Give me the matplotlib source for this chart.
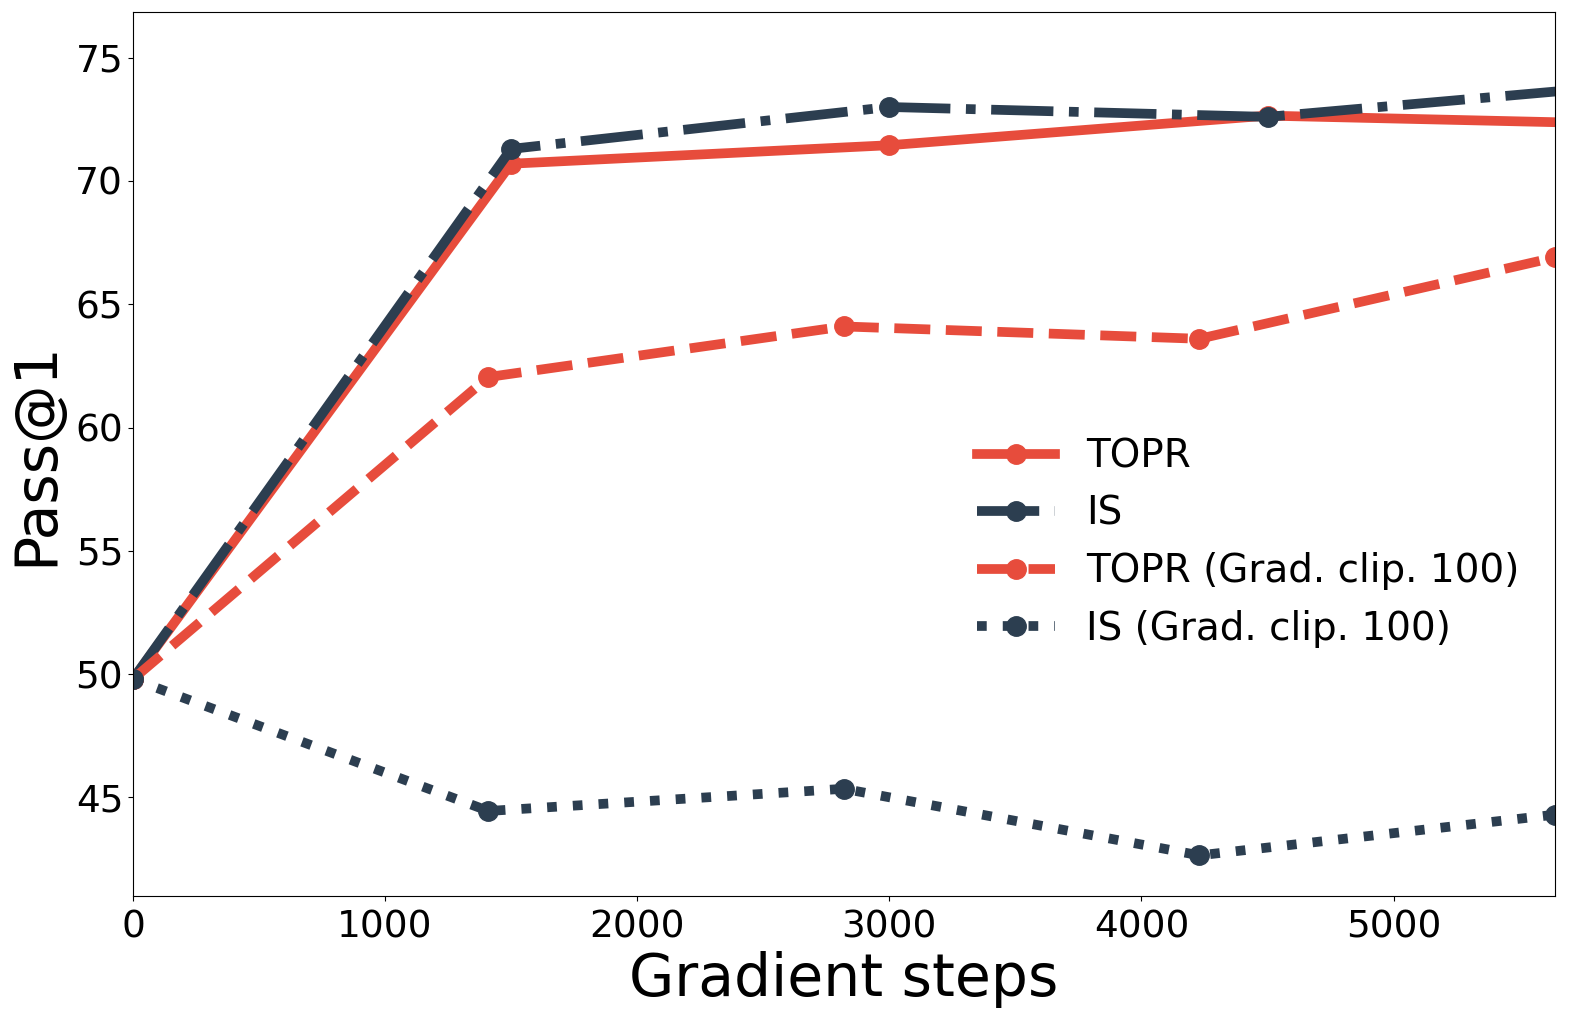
import matplotlib.pyplot as plt

# Pass@1 vs gradient steps
steps = [0, 1500, 3000, 4500, 6000]
steps_clip = [0, 1410, 2820, 4230, 5640]

topr = [49.8, 70.7, 71.45, 72.65, 72.3]
is_vals = [49.8, 71.3, 73.0, 72.6, 73.95]
topr_clip = [49.8, 62.05, 64.1, 63.6, 66.9]
is_clip = [49.8, 44.45, 45.35, 42.65, 44.3]

rod = "#e74c3c"
mork = "#2c3e50"

fig = plt.figure(figsize=(15.77, 10.23), dpi=100)
ax = fig.add_axes([0.0843, 0.1241, 0.9017, 0.8641])

ax.plot(steps, topr, color=rod, linestyle="-", marker="o", lw=7, ms=14, label="TOPR")
ax.plot(steps, is_vals, color=mork, linestyle="-.", marker="o", lw=7, ms=14, label="IS")
ax.plot(steps_clip, topr_clip, color=rod, linestyle="--", marker="o", lw=7, ms=14,
        label="TOPR (Grad. clip. 100)")
ax.plot(steps_clip, is_clip, color=mork, linestyle=":", marker="o", lw=7, ms=14,
        label="IS (Grad. clip. 100)")

ax.set_xlim(0, 5640)
ax.set_ylim(41.0, 76.85)
ax.set_xticks([0, 1000, 2000, 3000, 4000, 5000])
ax.set_yticks([45, 50, 55, 60, 65, 70, 75])
ax.tick_params(labelsize=27)
ax.tick_params(axis="x", pad=6)
ax.set_xlabel("Gradient steps", fontsize=42, labelpad=4)
ax.set_ylabel("Pass@1", fontsize=42, labelpad=8)

ax.legend(loc="center left", bbox_to_anchor=(0.569, 0.400), frameon=False, fontsize=28)

fig.savefig("out.png", dpi=100)
